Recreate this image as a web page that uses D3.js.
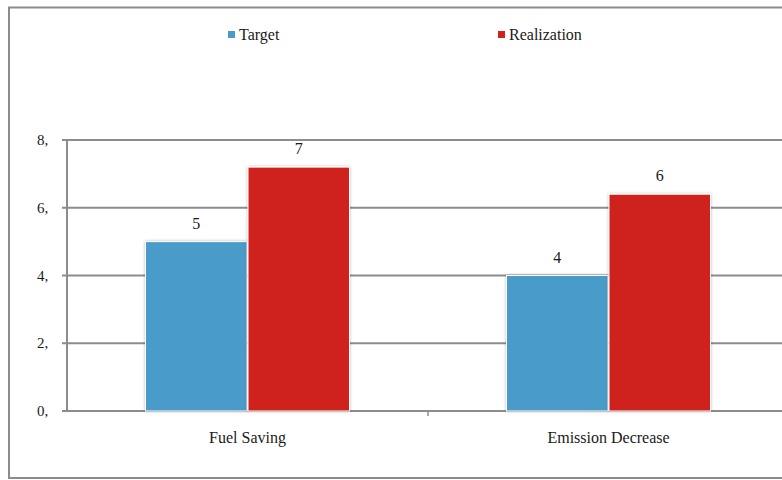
<!DOCTYPE html>
<html><head><meta charset="utf-8">
<script src="https://cdn.jsdelivr.net/npm/d3@7"></script>
<style>body{margin:0;background:#fff}svg{display:block}</style>
</head><body>
<script>
const categories = ["Fuel Saving", "Emission Decrease"];
const seriesNames = ["Target", "Realization"];
const targetValues = [5, 4];
const realizationValues = [7.2, 6.4];
const yTicks = [0, 2, 4, 6, 8];
const yTickLabels = ["0,", "2,", "4,", "6,", "8,"];
const colors = ["#4a9bc9", "#d0231c"];

(function () {
const W = 782, H = 480;
const FONT = "'Liberation Serif', 'Times New Roman', 'DejaVu Serif', serif";
const svg = d3.select("body").append("svg").attr("width", W).attr("height", H)
  .attr("font-family", FONT).style("font-family", FONT);
const defs = svg.append("defs");
const f = defs.append("filter").attr("id","sh").attr("x","-10%").attr("y","-10%").attr("width","120%").attr("height","120%");
f.append("feDropShadow").attr("dx",0).attr("dy",0).attr("stdDeviation",1.6).attr("flood-color","#000").attr("flood-opacity",0.28);

svg.append("rect").attr("x",9).attr("y",7.5).attr("width",800).attr("height",470.5)
  .attr("fill","none").attr("stroke","#8c8c8c").attr("stroke-width",2);

const pLeft = 67, pRight = 789, pTop = 140, pBottom = 411;
const x0 = d3.scaleBand().domain(categories).range([pLeft, pRight]).paddingInner(0).paddingOuter(0);
const x1 = d3.scaleBand().domain(seriesNames).range([0, 205]).padding(0);
const y = d3.scaleLinear().domain([0, 8]).range([pBottom, pTop]);

svg.append("g").selectAll("line").data(yTicks).join("line")
  .attr("x1", pLeft - 5).attr("x2", W).attr("y1", d => y(d)).attr("y2", d => y(d))
  .attr("stroke", "#8c8c8c").attr("stroke-width", 2);
svg.append("line").attr("x1",pLeft).attr("x2",pLeft).attr("y1",y(8)).attr("y2",y(0)+1)
  .attr("stroke","#8c8c8c").attr("stroke-width",2);
svg.append("g").selectAll("text").data(yTicks).join("text")
  .attr("x", 37).attr("y", d => y(d) + 5).attr("font-size", 15).attr("fill", "#1a1a1a")
  .text((d,i) => yTickLabels[i]);
svg.append("g").selectAll("line").data(categories.slice(1)).join("line")
  .attr("x1", d => x0(d)).attr("x2", d => x0(d)).attr("y1", pBottom).attr("y2", pBottom + 5)
  .attr("stroke", "#8c8c8c").attr("stroke-width", 1.5);

const data = categories.map((c, i) => ({cat: c, vals: [targetValues[i], realizationValues[i]]}));
const groups = svg.append("g").selectAll("g").data(data).join("g")
  .attr("transform", d => `translate(${x0(d.cat) + (x0.bandwidth() - 205) / 2},0)`);
groups.selectAll("rect").data(d => d.vals.map((v, j) => ({v, s: seriesNames[j], j}))).join("rect")
  .attr("x", d => x1(d.s) + 0.5).attr("width", x1.bandwidth() - 1)
  .attr("y", d => y(d.v)).attr("height", d => y(0) - y(d.v))
  .attr("fill", d => colors[d.j]).attr("stroke", "#fff").attr("stroke-width", 1)
  .attr("filter", "url(#sh)");
groups.selectAll("text").data(d => d.vals.map((v, j) => ({v, s: seriesNames[j], j}))).join("text")
  .attr("x", d => x1(d.s) + x1.bandwidth() / 2).attr("y", d => y(d.v) - 13)
  .attr("text-anchor", "middle").attr("font-size", 16).attr("fill", "#1a1a1a")
  .text(d => d3.format(".0f")(Math.floor(d.v)));

svg.append("g").selectAll("text").data(categories).join("text")
  .attr("x", d => x0(d) + x0.bandwidth() / 2).attr("y", 443)
  .attr("text-anchor", "middle").attr("font-size", 16).attr("fill", "#1a1a1a").text(d => d);

const legX = [228, 498];
const lg = svg.append("g").selectAll("g").data(seriesNames).join("g")
  .attr("transform", (d, i) => `translate(${legX[i]},31)`);
lg.append("rect").attr("width", 7).attr("height", 7).attr("fill", (d, i) => colors[i]);
lg.append("text").attr("x", 11).attr("y", 9).attr("font-size", 16).attr("fill", "#1a1a1a").text(d => d);
})();
</script>
</body></html>
